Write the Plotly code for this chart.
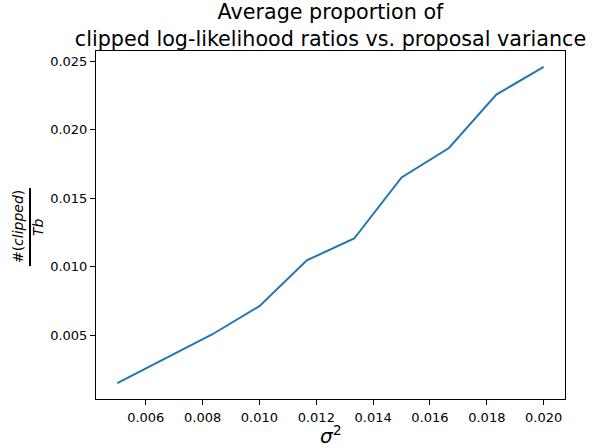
import plotly.graph_objects as go

sigma2 = [0.005, 0.0066667, 0.0083333, 0.01, 0.0116667, 0.0133333, 0.015, 0.0166667, 0.0183333, 0.02]
prop_clipped = [0.00152, 0.0033, 0.00507, 0.00714, 0.01048, 0.01207, 0.01652, 0.01867, 0.02256, 0.02459]

x_ticks = [0.006, 0.008, 0.010, 0.012, 0.014, 0.016, 0.018, 0.020]
y_ticks = [0.005, 0.010, 0.015, 0.020, 0.025]

FONT = "DejaVu Sans"

fig = go.Figure()
fig.add_trace(go.Scatter(x=sigma2, y=prop_clipped, mode="lines",
                         line=dict(color="#1f77b4", width=2), showlegend=False))

axis_common = dict(showgrid=False, zeroline=False, showline=True, linecolor="black",
                   linewidth=1, mirror=True, ticks="outside", ticklen=5, tickwidth=1,
                   tickcolor="black", automargin=False,
                   tickfont=dict(family=FONT, size=13, color="black"))

fig.update_xaxes(range=[0.00425, 0.02075], tickvals=x_ticks, ticklabelstandoff=1,
                 ticktext=[f"{v:.3f}" for v in x_ticks], **axis_common)
fig.update_yaxes(range=[0.000367, 0.025743], tickvals=y_ticks,
                 ticktext=[f"{v:.3f}" for v in y_ticks], **axis_common)

fig.update_layout(
    width=595, height=448,
    margin=dict(l=96, r=30, t=51, b=49, autoexpand=False),
    paper_bgcolor="white", plot_bgcolor="white",
    title=dict(text="Average proportion of<br>clipped log-likelihood ratios vs. proposal variance",
               font=dict(family=FONT, size=20.7, color="black"),
               x=0.5, xref="paper", xanchor="center", automargin=False,
               y=1 - 19 / 448, yref="container", yanchor="top"),
)

# x label
fig.add_annotation(text="<i>σ</i><sup>2</sup>", xref="paper", yref="paper",
                   x=0.5, y=-0.104, xanchor="center", yanchor="middle", showarrow=False,
                   font=dict(family=FONT, size=20, color="black"))

# y label as a rotated fraction
fig.add_annotation(text="#(<i>clipped</i>)", xref="paper", yref="paper",
                   x=-0.1663, y=0.494, xanchor="center", yanchor="middle", showarrow=False,
                   textangle=-90, font=dict(family=FONT, size=14, color="black"))
fig.add_annotation(text="<i>Tb</i>", xref="paper", yref="paper",
                   x=-0.1237, y=0.494, xanchor="center", yanchor="middle", showarrow=False,
                   textangle=-90, font=dict(family=FONT, size=14, color="black"))
fig.add_shape(type="line", xref="paper", yref="paper",
              x0=-0.1407, x1=-0.1407, y0=0.382, y1=0.606,
              line=dict(color="black", width=2))

fig.write_html("out.html", config={"displayModeBar": False},
               post_script="document.body.style.margin='0';document.body.style.overflow='hidden';")
